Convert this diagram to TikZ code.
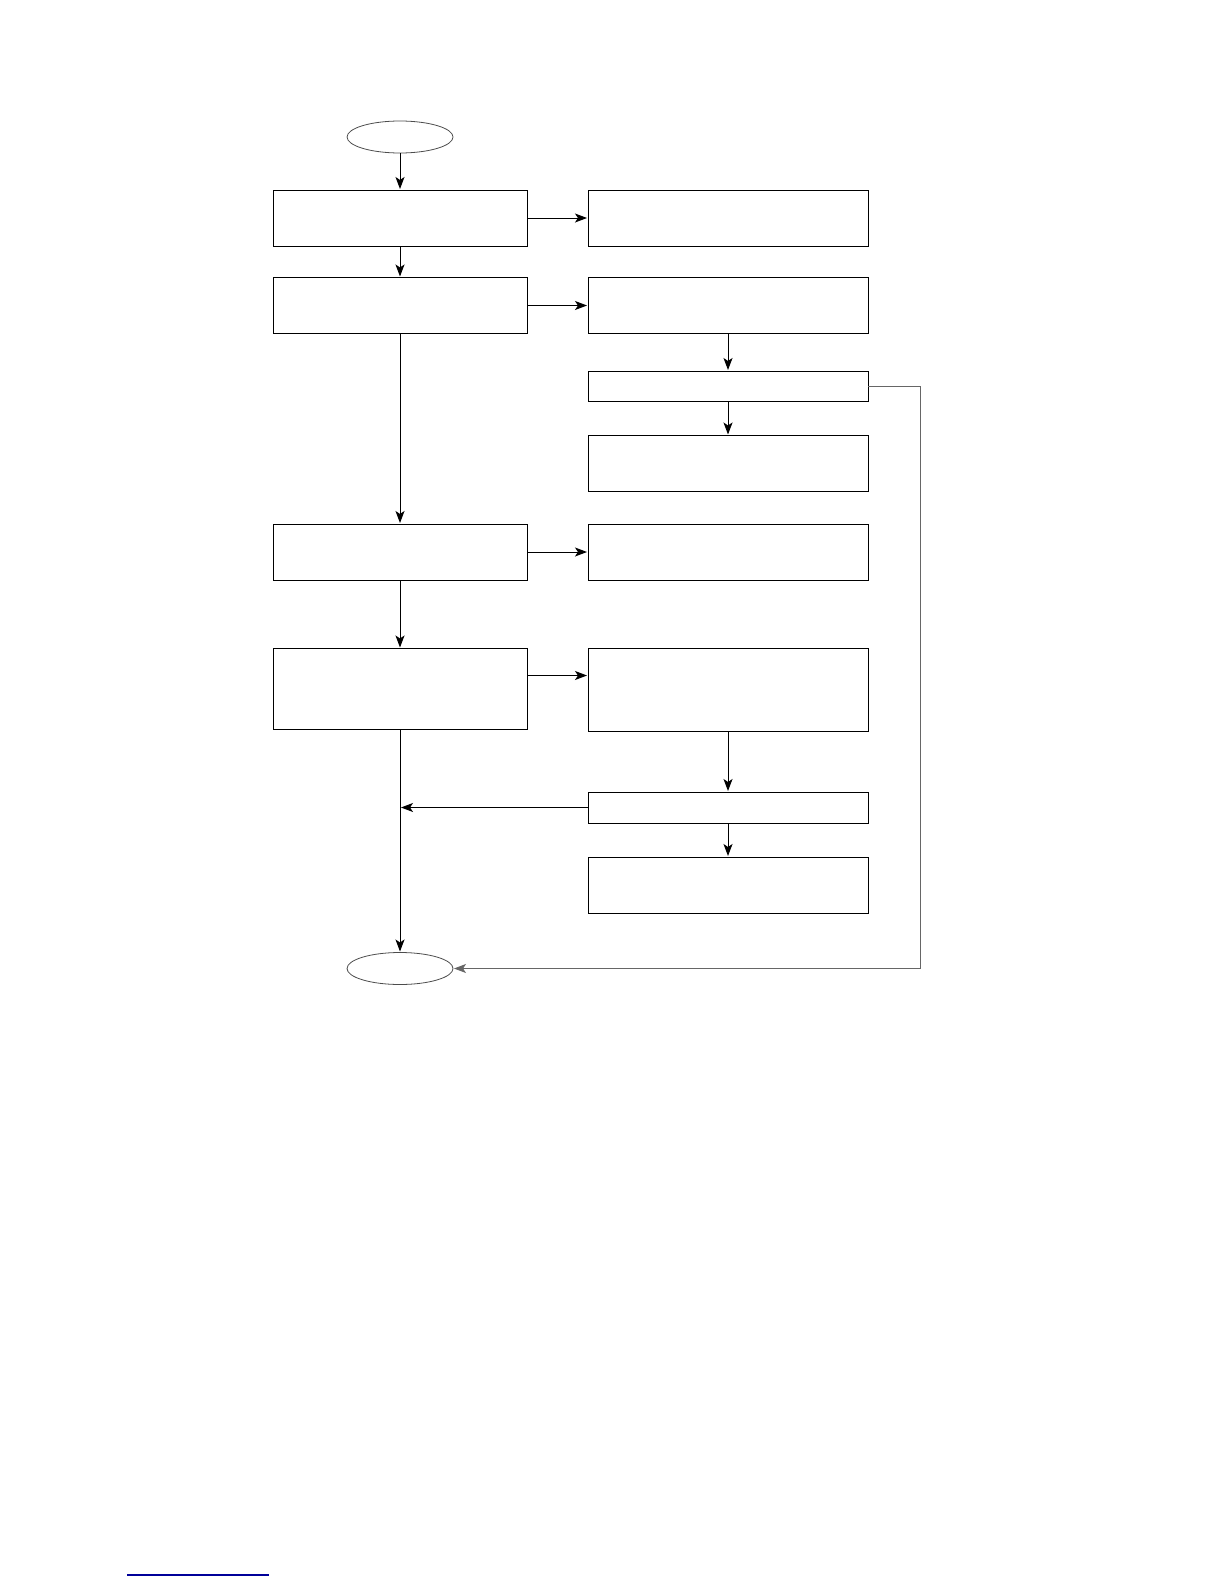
\documentclass[tikz,border=0pt]{standalone}
\usetikzlibrary{shapes.geometric, arrows.meta, positioning}

\begin{document}
\begin{tikzpicture}[x=1pt, y=-1pt,
        box/.style={draw, line width=1pt, minimum width=254pt, minimum height=56pt, inner sep=0pt, outer sep=0pt},
        rbox/.style={box, minimum width=280pt},
        term/.style={draw=black!70, ellipse, line width=0.8pt, minimum width=106pt, minimum height=32pt, inner sep=0pt, outer sep=0pt},
        arr/.style={-{Stealth[length=12pt, width=9pt, inset=3pt]}, line width=1pt, shorten >=1pt}]
        \useasboundingbox (0,0) rectangle (1224,1584);
        \node[term] (start) at (400,137) {};
        \node[box] (L1) at (400,218) {};
        \node[rbox] (R1) at (728,218) {};
        \node[box] (L2) at (400,305.5) {};
        \node[rbox] (R2) at (728,305.5) {};
        \node[rbox, minimum height=30pt] (R3) at (728,386) {};
        \node[rbox] (R4) at (728,463.5) {};
        \node[box] (L3) at (400,552) {};
        \node[rbox] (R5) at (728,552) {};
        \node[box, minimum height=81pt] (L4) at (400,689) {};
        \node[rbox, minimum height=83pt] (R6) at (728,690) {};
        \node[rbox, minimum height=31pt] (R7) at (728,807.5) {};
        \node[rbox] (R8) at (728,885) {};
        \node[term] (stop) at (400,968.5) {};
        \draw[arr] (start) -- (L1);
        \draw[arr] (L1) -- (R1);
        \draw[arr] (L1) -- (L2);
        \draw[arr] (L2) -- (R2);
        \draw[arr] (R2) -- (R3);
        \draw[arr] (R3) -- (R4);
        \draw[arr] (L2) -- (L3);
        \draw[arr] (L3) -- (R5);
        \draw[arr] (L3) -- (L4);
        \draw[arr] ([yshift=-27pt]L4.north east) -- ([yshift=-27pt]R6.north west);
        \draw[arr] (R6) -- (R7);
        \draw[arr] (R7) -- (R8);
        \draw[arr] (R7.west) -- (R7.west -| L4.south);
        \draw[arr] (L4) -- (stop);
        \draw[arr, draw=black!60, line width=0.8pt] (R3.east) -- ++(52,0) |- (stop.east);
        \draw[blue!60!black, line width=1.2pt] (127,1575) -- (269,1575);
    \end{tikzpicture}
\end{document}
